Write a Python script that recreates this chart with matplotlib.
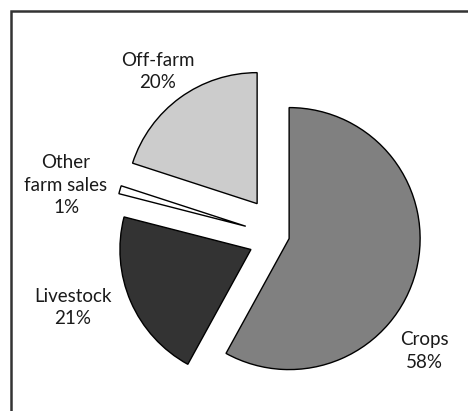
import matplotlib
matplotlib.use("Agg")
import matplotlib.pyplot as plt
from matplotlib.patches import Rectangle

categories = ["Crops", "Livestock", "Other\nfarm sales", "Off-farm"]
values = [58, 21, 1, 20]
colors = ["#808080", "#333333", "#ffffff", "#cccccc"]
explode = [0.064, 0.25, 0.28, 0.31]
label_pos = [(1.092, -0.874), (-1.588, -0.542), (-1.641, 0.393), (-0.939, 1.26)]

fig = plt.figure(figsize=(4.68, 4.11), dpi=100)
ax = fig.add_axes([0, 0, 1, 1])
ax.pie(values, colors=colors, explode=explode, startangle=90, counterclock=False,
       radius=1.0, wedgeprops=dict(edgecolor="black", linewidth=1.0))
ax.set_aspect("auto")
ax.set_xlim(-281 / 131, (468 - 281) / 131)
ax.set_ylim((236.5 - 411) / 131, 236.5 / 131)
ax.axis("off")

for cat, v, (x, y) in zip(categories, values, label_pos):
    ax.text(x, y, f"{cat}\n{v}%", ha="center", va="center", fontsize=13.5,
            family="Lato", linespacing=1.4, color="#1a1a1a")

fig.patches.append(Rectangle((11 / 468, -0.1), 1.2, (411 - 11) / 411 + 0.1,
                             transform=fig.transFigure, fill=False,
                             edgecolor="#333333", linewidth=1.8))
fig.savefig("out.png", dpi=100)
